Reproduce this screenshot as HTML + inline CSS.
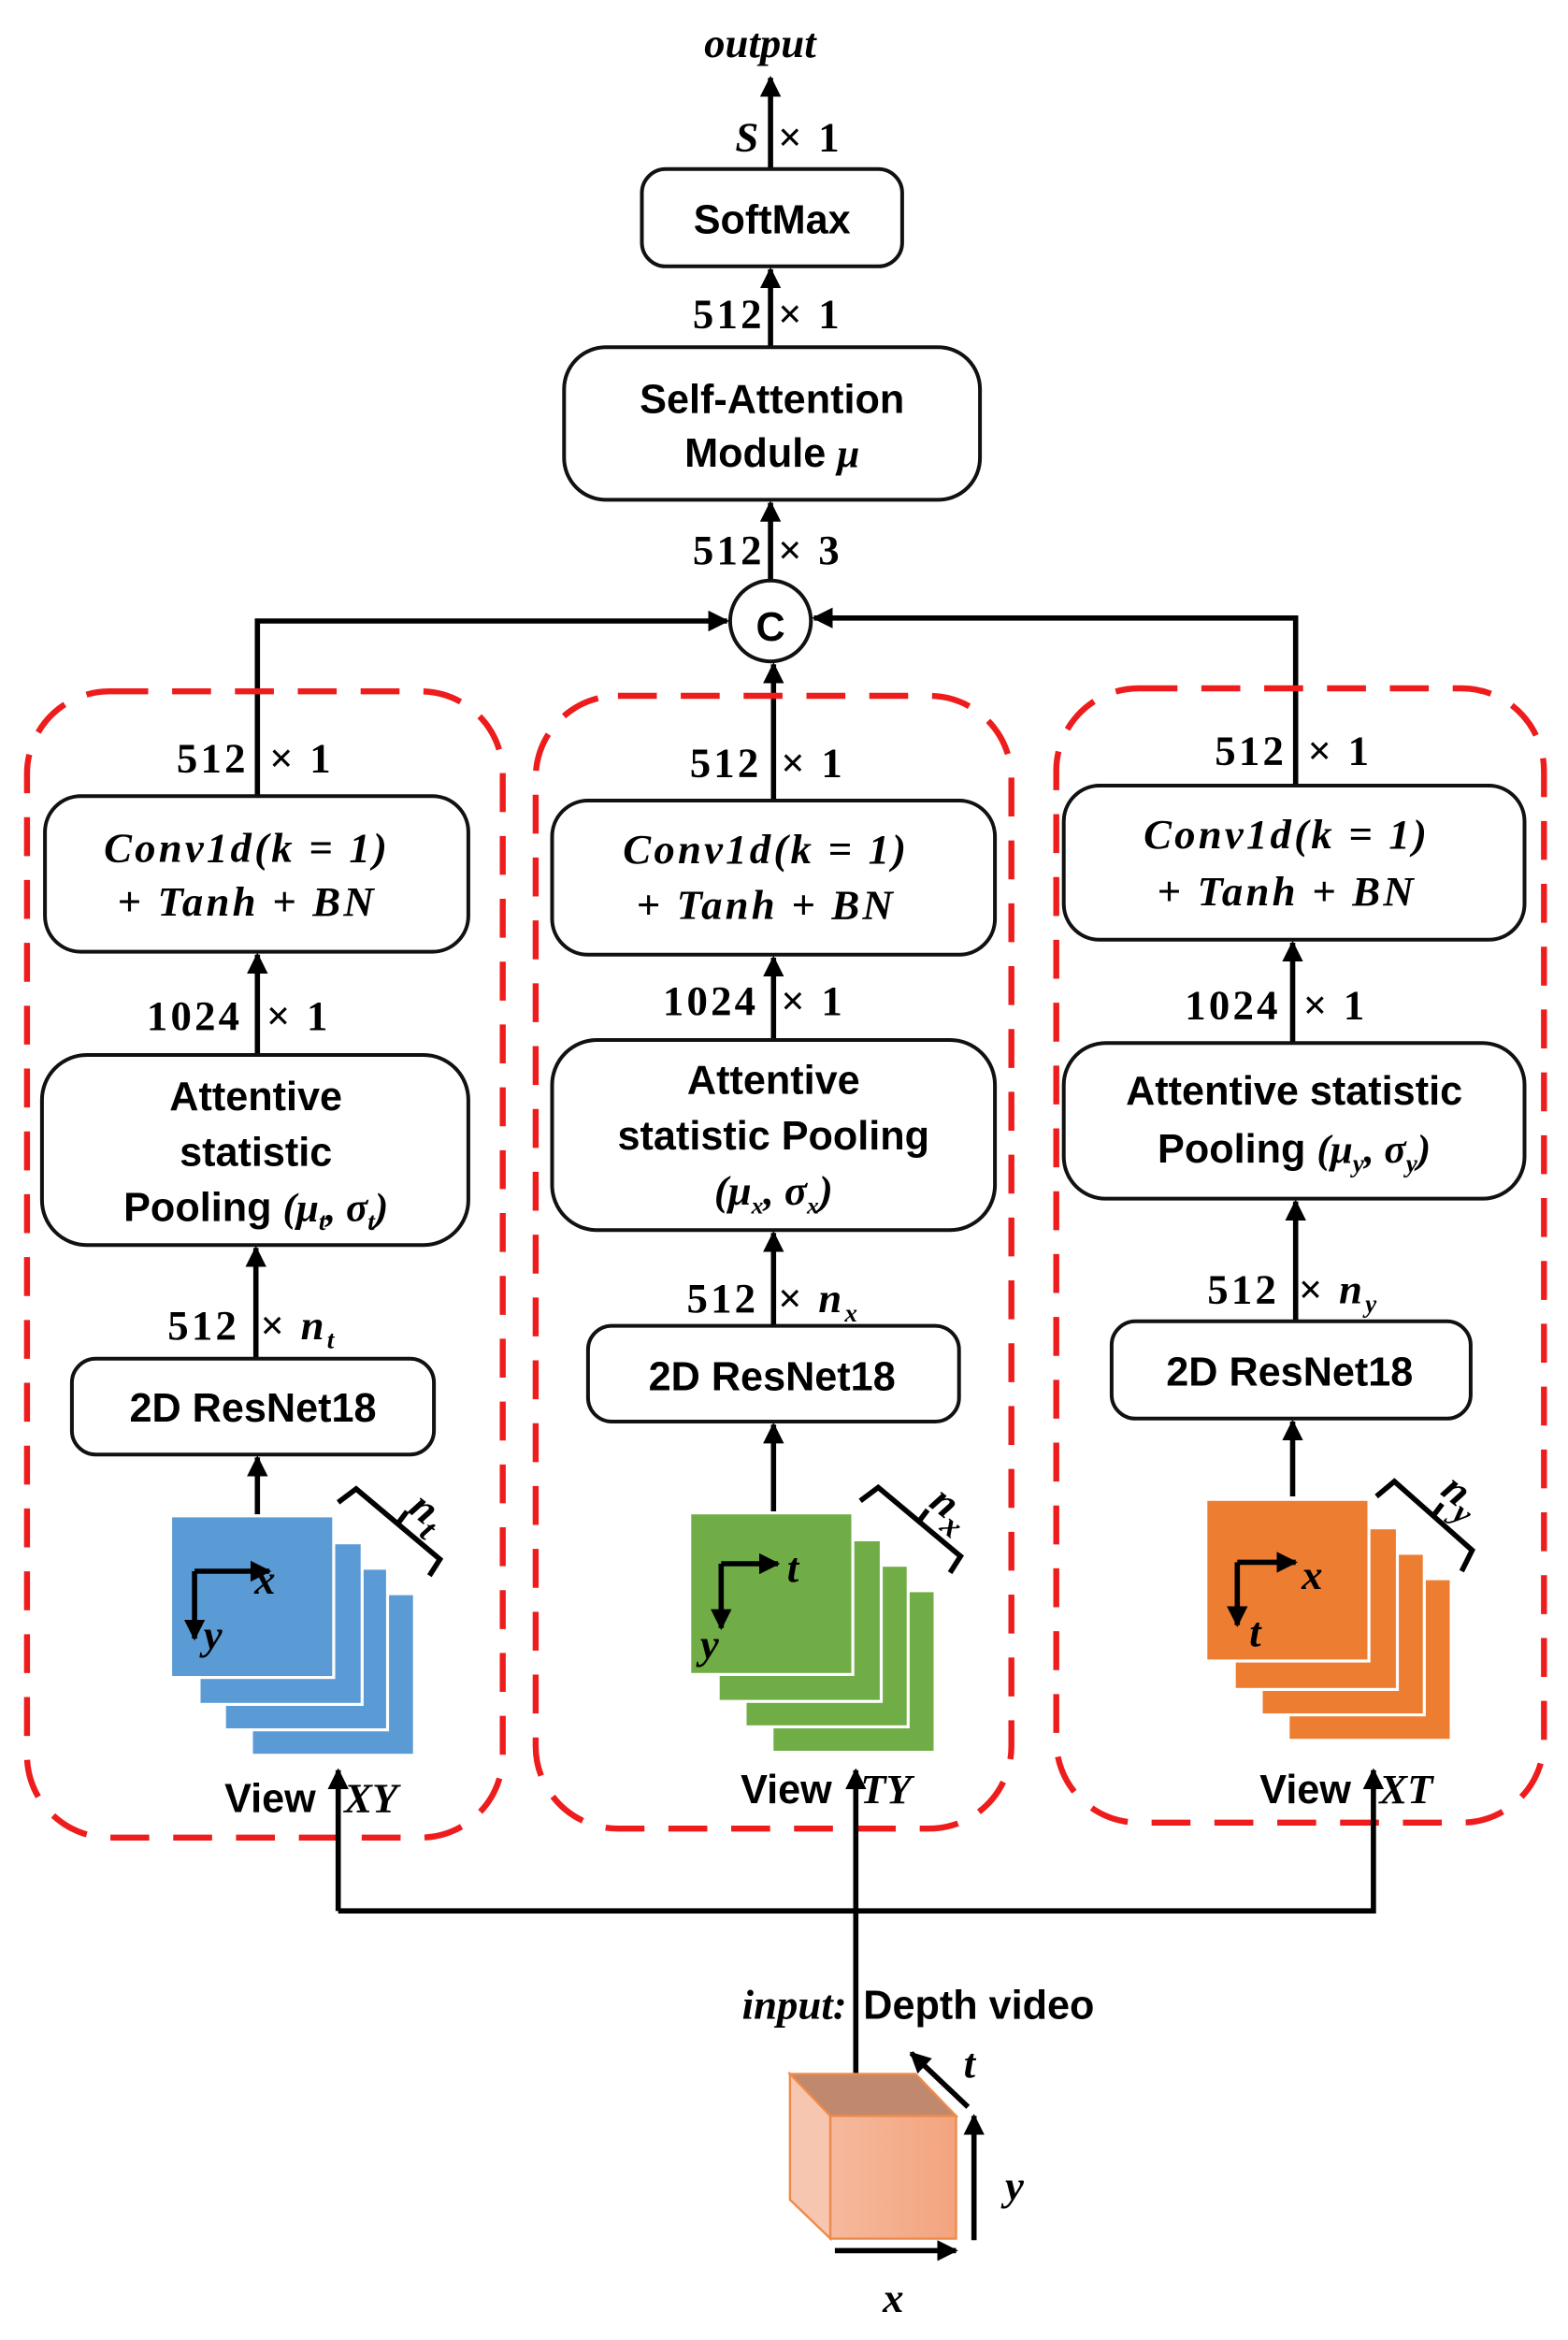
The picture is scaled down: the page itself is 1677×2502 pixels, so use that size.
<!DOCTYPE html>
<html><head><meta charset="utf-8"><style>
html,body{margin:0;padding:0;background:#fff}
svg{display:block}
.s{font-family:"Liberation Sans",sans-serif;font-weight:bold;font-size:27px;text-anchor:middle}
.m{font-family:"Liberation Serif",serif;font-weight:bold;font-size:28px;letter-spacing:2px}
.mi{font-family:"Liberation Serif",serif;font-weight:bold;font-style:italic;font-size:28px}
.b{fill:#fff;stroke:#111;stroke-width:2.5}
.l{stroke:#000;stroke-width:3.5;fill:none}
.d{fill:none;stroke:#ee1c1c;stroke-width:4;stroke-dasharray:26 16}
</style></head><body>
<svg width="1677" height="2502" viewBox="0 0 1048 1563.75" xmlns="http://www.w3.org/2000/svg">
<defs>
<marker id="a" viewBox="0 0 10 10" refX="9" refY="5" markerWidth="4" markerHeight="4" orient="auto"><path d="M0,0L10,5L0,10z" fill="#000"/></marker>
<linearGradient id="cf" x1="0" x2="1"><stop offset="0" stop-color="#f5b99c"/><stop offset="1" stop-color="#f3a47e"/></linearGradient>
</defs>
<!-- top -->
<text x="508" y="38" class="mi" text-anchor="middle" font-size="30">output</text>
<line x1="515" y1="113" x2="515" y2="52" class="l" marker-end="url(#a)"/>
<text x="507" y="101" class="mi" text-anchor="end">S</text><text x="520" y="101" class="m">× 1</text>
<rect x="429" y="113" width="174" height="65" rx="16" class="b"/>
<text x="516" y="156" class="s">SoftMax</text>
<line x1="515" y1="232" x2="515" y2="180" class="l" marker-end="url(#a)"/>
<text x="511" y="219" class="m" text-anchor="end">512</text><text x="520" y="219" class="m">× 1</text>
<rect x="377" y="232" width="278" height="102" rx="28" class="b"/>
<text x="516" y="276" class="s">Self-Attention</text>
<text x="516" y="312" class="s">Module <tspan font-family="Liberation Serif" font-style="italic">μ</tspan></text>
<line x1="515" y1="390" x2="515" y2="336" class="l" marker-end="url(#a)"/>
<text x="511" y="377" class="m" text-anchor="end">512</text><text x="520" y="377" class="m">× 3</text>
<circle cx="515" cy="415" r="27" class="b" stroke-width="3"/>
<text x="515" y="428" class="s" font-size="36">C</text>
<polyline points="172,532 172,415 486,415" class="l" marker-end="url(#a)"/>
<polyline points="866,527 866,413 544,413" class="l" marker-end="url(#a)"/>
<line x1="517" y1="537" x2="517" y2="444" class="l" marker-end="url(#a)"/>
<!-- dashed -->
<rect x="18" y="462" width="318" height="766" rx="55" class="d"/>
<rect x="358" y="465" width="318" height="757" rx="55" class="d"/>
<rect x="706" y="460" width="326" height="758" rx="55" class="d"/>
<!-- left column -->
<text x="166" y="516" class="m" text-anchor="end">512</text><text x="180" y="516" class="m">× 1</text>
<rect x="30" y="532" width="283" height="104" rx="24" class="b"/>
<text x="165" y="576" class="mi" text-anchor="middle" letter-spacing="2">Conv1d(k = 1)</text>
<text x="165" y="612" class="mi" text-anchor="middle" letter-spacing="2">+ Tanh  + BN</text>
<line x1="172" y1="705" x2="172" y2="638" class="l" marker-end="url(#a)"/>
<text x="162" y="688" class="m" text-anchor="end">1024</text><text x="178" y="688" class="m">× 1</text>
<rect x="28" y="705" width="285" height="127" rx="30" class="b"/>
<text x="171" y="742" class="s">Attentive</text>
<text x="171" y="779" class="s">statistic</text>
<text x="171" y="816" class="s">Pooling <tspan font-family="Liberation Serif" font-style="italic">(μ<tspan font-size="17" dy="6">t</tspan><tspan dy="-6">, σ</tspan><tspan font-size="17" dy="6">t</tspan><tspan dy="-6">)</tspan></tspan></text>
<line x1="171" y1="908" x2="171" y2="834" class="l" marker-end="url(#a)"/>
<text x="160" y="895" class="m" text-anchor="end">512</text><text x="174" y="895" class="m">× <tspan font-style="italic">n</tspan><tspan font-size="17" dy="6" font-style="italic">t</tspan></text>
<rect x="48" y="908" width="242" height="64" rx="16" class="b"/>
<text x="169" y="950" class="s">2D ResNet18</text>
<line x1="172" y1="1012" x2="172" y2="974" class="l" marker-end="url(#a)"/>
<g fill="#5b9bd5" stroke="#fff" stroke-width="2">
<rect x="168" y="1065" width="109" height="108"/><rect x="150" y="1048" width="109" height="108"/><rect x="133" y="1031" width="109" height="108"/><rect x="114" y="1013" width="109" height="108"/></g>
<polyline points="130,1050 180,1050" class="l" stroke-width="3" marker-end="url(#a)"/>
<line x1="130" y1="1050" x2="130" y2="1095" class="l" stroke-width="3" marker-end="url(#a)"/>
<text x="170" y="1065" class="mi" font-size="32">x</text><text x="136" y="1102" class="mi" font-size="32">y</text>
<polyline points="226,1004 238,995 294,1042 287,1053" class="l" stroke-width="2.5"/>
<line x1="266" y1="1018" x2="272" y2="1010" class="l" stroke-width="2.5"/>
<text transform="translate(272,1010) rotate(38)" class="mi" font-size="38">n<tspan font-size="22" dy="8">t</tspan></text>
<text x="150" y="1211" class="s" style="text-anchor:start">View</text>
<text x="230" y="1211" class="mi">XY</text>
<polyline points="226,1277 918,1277 918,1183" class="l" marker-end="url(#a)"/>
<line x1="226" y1="1277" x2="226" y2="1183" class="l" marker-end="url(#a)"/>
<!-- middle column -->
<text x="509" y="519" class="m" text-anchor="end">512</text><text x="522" y="519" class="m">× 1</text>
<rect x="369" y="535" width="296" height="103" rx="24" class="b"/>
<text x="512" y="577" class="mi" text-anchor="middle" letter-spacing="2">Conv1d(k = 1)</text>
<text x="512" y="614" class="mi" text-anchor="middle" letter-spacing="2">+ Tanh  + BN</text>
<line x1="517" y1="695" x2="517" y2="640" class="l" marker-end="url(#a)"/>
<text x="507" y="678" class="m" text-anchor="end">1024</text><text x="522" y="678" class="m">× 1</text>
<rect x="369" y="695" width="296" height="127" rx="30" class="b"/>
<text x="517" y="731" class="s">Attentive</text>
<text x="517" y="768" class="s">statistic Pooling</text>
<text x="517" y="805" class="mi" text-anchor="middle" font-weight="normal" font-size="24">(μ<tspan font-size="16" dy="6">x</tspan><tspan dy="-6">, σ</tspan><tspan font-size="16" dy="6">x</tspan><tspan dy="-6">)</tspan></text>
<line x1="517" y1="886" x2="517" y2="824" class="l" marker-end="url(#a)"/>
<text x="507" y="877" class="m" text-anchor="end">512</text><text x="520" y="877" class="m">× <tspan font-style="italic">n</tspan><tspan font-size="17" dy="6" font-style="italic">x</tspan></text>
<rect x="393" y="886" width="248" height="64" rx="16" class="b"/>
<text x="516" y="929" class="s">2D ResNet18</text>
<line x1="517" y1="1010" x2="517" y2="952" class="l" marker-end="url(#a)"/>
<g fill="#70ad47" stroke="#fff" stroke-width="2">
<rect x="516" y="1063" width="109" height="108"/><rect x="498" y="1046" width="109" height="108"/><rect x="480" y="1029" width="109" height="108"/><rect x="461" y="1011" width="109" height="108"/></g>
<polyline points="482,1045 520,1045" class="l" stroke-width="3" marker-end="url(#a)"/>
<line x1="482" y1="1045" x2="482" y2="1088" class="l" stroke-width="3" marker-end="url(#a)"/>
<text x="526" y="1057" class="mi" font-size="32">t</text><text x="468" y="1108" class="mi" font-size="32">y</text>
<polyline points="575,1003 587,994 642,1040 635,1051" class="l" stroke-width="2.5"/>
<line x1="614" y1="1017" x2="620" y2="1009" class="l" stroke-width="2.5"/>
<text transform="translate(620,1006) rotate(38)" class="mi" font-size="38">n<tspan font-size="22" dy="8">x</tspan></text>
<text x="495" y="1205" class="s" style="text-anchor:start">View</text>
<text x="575" y="1205" class="mi">TY</text>
<line x1="572" y1="1390" x2="572" y2="1183" class="l" marker-end="url(#a)"/>
<!-- right column -->
<text x="860" y="511" class="m" text-anchor="end">512</text><text x="874" y="511" class="m">× 1</text>
<rect x="711" y="525" width="308" height="103" rx="24" class="b"/>
<text x="860" y="567" class="mi" text-anchor="middle" letter-spacing="2">Conv1d(k = 1)</text>
<text x="860" y="605" class="mi" text-anchor="middle" letter-spacing="2">+ Tanh  + BN</text>
<line x1="864" y1="697" x2="864" y2="630" class="l" marker-end="url(#a)"/>
<text x="856" y="681" class="m" text-anchor="end">1024</text><text x="871" y="681" class="m">× 1</text>
<rect x="711" y="697" width="308" height="104" rx="28" class="b"/>
<text x="865" y="738" class="s">Attentive statistic</text>
<text x="865" y="777" class="s">Pooling <tspan font-family="Liberation Serif" font-style="italic">(μ<tspan font-size="17" dy="6">y</tspan><tspan dy="-6">, σ</tspan><tspan font-size="17" dy="6">y</tspan><tspan dy="-6">)</tspan></tspan></text>
<line x1="866" y1="883" x2="866" y2="803" class="l" marker-end="url(#a)"/>
<text x="855" y="871" class="m" text-anchor="end">512</text><text x="868" y="871" class="m">× <tspan font-style="italic">n</tspan><tspan font-size="17" dy="6" font-style="italic">y</tspan></text>
<rect x="743" y="883" width="240" height="65" rx="16" class="b"/>
<text x="862" y="926" class="s">2D ResNet18</text>
<line x1="864" y1="1000" x2="864" y2="950" class="l" marker-end="url(#a)"/>
<g fill="#ed7d31" stroke="#fff" stroke-width="2">
<rect x="861" y="1055" width="109" height="108"/><rect x="843" y="1038" width="109" height="108"/><rect x="825" y="1021" width="109" height="108"/><rect x="806" y="1002" width="109" height="108"/></g>
<polyline points="827,1044 866,1044" class="l" stroke-width="3" marker-end="url(#a)"/>
<line x1="827" y1="1044" x2="827" y2="1086" class="l" stroke-width="3" marker-end="url(#a)"/>
<text x="870" y="1062" class="mi" font-size="32">x</text><text x="835" y="1100" class="mi" font-size="32">t</text>
<polyline points="920,1000 932,990 984,1036 977,1050" class="l" stroke-width="2.5"/>
<line x1="958" y1="1013" x2="964" y2="1005" class="l" stroke-width="2.5"/>
<text transform="translate(962,998) rotate(38)" class="mi" font-size="38">n<tspan font-size="22" dy="8">y</tspan></text>
<text x="842" y="1205" class="s" style="text-anchor:start">View</text>
<text x="922" y="1205" class="mi">XT</text>
<!-- input -->
<text x="566" y="1349" class="mi" text-anchor="end" font-weight="normal" font-size="31">input:</text>
<text x="577" y="1349" class="s" style="text-anchor:start" font-size="30">Depth video</text>
<polygon points="528,1386 612,1386 639,1414 555,1414" fill="#c0886c" stroke="#ee8a4a" stroke-width="1.5"/>
<polygon points="528,1386 555,1414 555,1496 528,1470" fill="#f7c6b0" stroke="#ee8a4a" stroke-width="1.5"/>
<rect x="555" y="1414" width="84" height="82" fill="url(#cf)" stroke="#ee8a4a" stroke-width="1.5"/>
<line x1="558" y1="1504" x2="639" y2="1504" class="l" marker-end="url(#a)"/>
<line x1="651" y1="1497" x2="651" y2="1414" class="l" marker-end="url(#a)"/>
<line x1="647" y1="1408" x2="609" y2="1372" class="l" marker-end="url(#a)"/>
<text x="597" y="1545" class="mi" text-anchor="middle" font-size="38">x</text>
<text x="678" y="1470" class="mi" text-anchor="middle" font-size="38">y</text>
<text x="648" y="1388" class="mi" text-anchor="middle" font-size="38">t</text>
</svg>
</body></html>
